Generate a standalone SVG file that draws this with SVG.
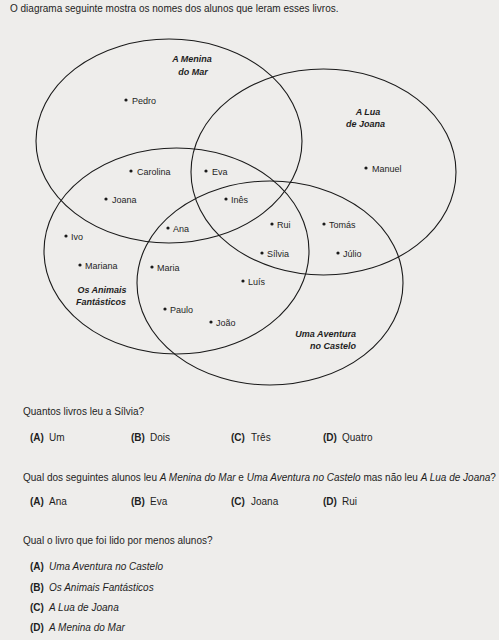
<svg xmlns="http://www.w3.org/2000/svg" width="499" height="640" viewBox="0 0 499 640">
<style>
text{font-family:"Liberation Sans",Arial,sans-serif;fill:#1e1e1e}
.t{font-size:10px}
.n{font-size:9px}
.lb{font-size:9px;font-weight:bold;font-style:italic;text-anchor:middle}
.b{font-weight:bold}
.i{font-style:italic}
.set{fill:none;stroke:#1a1a1a;stroke-width:1.1}
.dot{fill:#1a1a1a}
</style>
<rect width="499" height="640" fill="#eeedeb"/>
<text class="t" x="10" y="11.5">O diagrama seguinte mostra os nomes dos alunos que leram esses livros.</text>

<g id="connectors">
<ellipse id="set-menina" class="set" cx="169" cy="141" rx="133" ry="102"/>
<ellipse id="set-lua" class="set" cx="323.5" cy="172" rx="132.5" ry="103"/>
<ellipse id="set-animais" class="set" cx="176.5" cy="251" rx="132.5" ry="103"/>
<ellipse id="set-aventura" class="set" cx="270" cy="283" rx="133" ry="102"/>
</g>

<g id="label-menina"><text class="lb" x="192" y="62">A Menina</text><text class="lb" x="193" y="75">do Mar</text></g>
<g id="label-lua"><text class="lb" x="368" y="115">A Lua</text><text class="lb" x="365.5" y="127">de Joana</text></g>
<g id="label-animais"><text class="lb" x="102" y="293">Os Animais</text><text class="lb" x="101" y="305">Fantásticos</text></g>
<g id="label-aventura"><text class="lb" x="356" y="337" style="text-anchor:end">Uma Aventura</text><text class="lb" x="356" y="349" style="text-anchor:end">no Castelo</text></g>

<g id="pedro"><circle class="dot" cx="126" cy="100" r="1.6"/><text class="n" x="132" y="103.5">Pedro</text></g>
<g id="carolina"><circle class="dot" cx="131" cy="171" r="1.6"/><text class="n" x="137" y="174.5">Carolina</text></g>
<g id="joana"><circle class="dot" cx="106" cy="199" r="1.6"/><text class="n" x="112" y="202.5">Joana</text></g>
<g id="eva"><circle class="dot" cx="206" cy="171" r="1.6"/><text class="n" x="212" y="174.5">Eva</text></g>
<g id="ines"><circle class="dot" cx="226" cy="199" r="1.6"/><text class="n" x="231" y="202.5">Inês</text></g>
<g id="manuel"><circle class="dot" cx="366" cy="168" r="1.6"/><text class="n" x="372" y="171.5">Manuel</text></g>
<g id="rui"><circle class="dot" cx="272" cy="224" r="1.6"/><text class="n" x="277" y="227.5">Rui</text></g>
<g id="tomas"><circle class="dot" cx="324" cy="224" r="1.6"/><text class="n" x="329" y="227.5">Tomás</text></g>
<g id="silvia"><circle class="dot" cx="262" cy="253" r="1.6"/><text class="n" x="267" y="256.5">Sílvia</text></g>
<g id="julio"><circle class="dot" cx="338" cy="253" r="1.6"/><text class="n" x="343" y="256.5">Júlio</text></g>
<g id="ana"><circle class="dot" cx="168" cy="228" r="1.6"/><text class="n" x="173" y="231.5">Ana</text></g>
<g id="ivo"><circle class="dot" cx="66" cy="236" r="1.6"/><text class="n" x="71" y="239.5">Ivo</text></g>
<g id="mariana"><circle class="dot" cx="80" cy="265" r="1.6"/><text class="n" x="85" y="268.5">Mariana</text></g>
<g id="maria"><circle class="dot" cx="152" cy="267" r="1.6"/><text class="n" x="157" y="270.5">Maria</text></g>
<g id="luis"><circle class="dot" cx="243" cy="281" r="1.6"/><text class="n" x="248" y="284.5">Luís</text></g>
<g id="paulo"><circle class="dot" cx="165" cy="309" r="1.6"/><text class="n" x="170" y="312.5">Paulo</text></g>
<g id="joao"><circle class="dot" cx="211" cy="322" r="1.6"/><text class="n" x="216" y="325.5">João</text></g>

<g id="q1">
<text class="t" x="23" y="415">Quantos livros leu a Sílvia?</text>
<text class="t" y="441"><tspan class="b" x="30">(A)</tspan><tspan x="49">Um</tspan><tspan class="b" x="131">(B)</tspan><tspan x="150">Dois</tspan><tspan class="b" x="231">(C)</tspan><tspan x="251">Três</tspan><tspan class="b" x="323">(D)</tspan><tspan x="342">Quatro</tspan></text>
</g>
<g id="q2">
<text class="t" x="23" y="481">Qual dos seguintes alunos leu <tspan class="i">A Menina do Mar</tspan> e <tspan class="i">Uma Aventura no Castelo</tspan> mas não leu <tspan class="i">A Lua de Joana</tspan>?</text>
<text class="t" y="505"><tspan class="b" x="30">(A)</tspan><tspan x="49">Ana</tspan><tspan class="b" x="131">(B)</tspan><tspan x="150">Eva</tspan><tspan class="b" x="231">(C)</tspan><tspan x="251">Joana</tspan><tspan class="b" x="323">(D)</tspan><tspan x="342">Rui</tspan></text>
</g>
<g id="q3">
<text class="t" x="23" y="544">Qual o livro que foi lido por menos alunos?</text>
<text class="t" y="570"><tspan class="b" x="30">(A)</tspan><tspan class="i" x="49">Uma Aventura no Castelo</tspan></text>
<text class="t" y="591"><tspan class="b" x="30">(B)</tspan><tspan class="i" x="49">Os Animais Fantásticos</tspan></text>
<text class="t" y="611"><tspan class="b" x="30">(C)</tspan><tspan class="i" x="49">A Lua de Joana</tspan></text>
<text class="t" y="631"><tspan class="b" x="30">(D)</tspan><tspan class="i" x="49">A Menina do Mar</tspan></text>
</g>
</svg>
